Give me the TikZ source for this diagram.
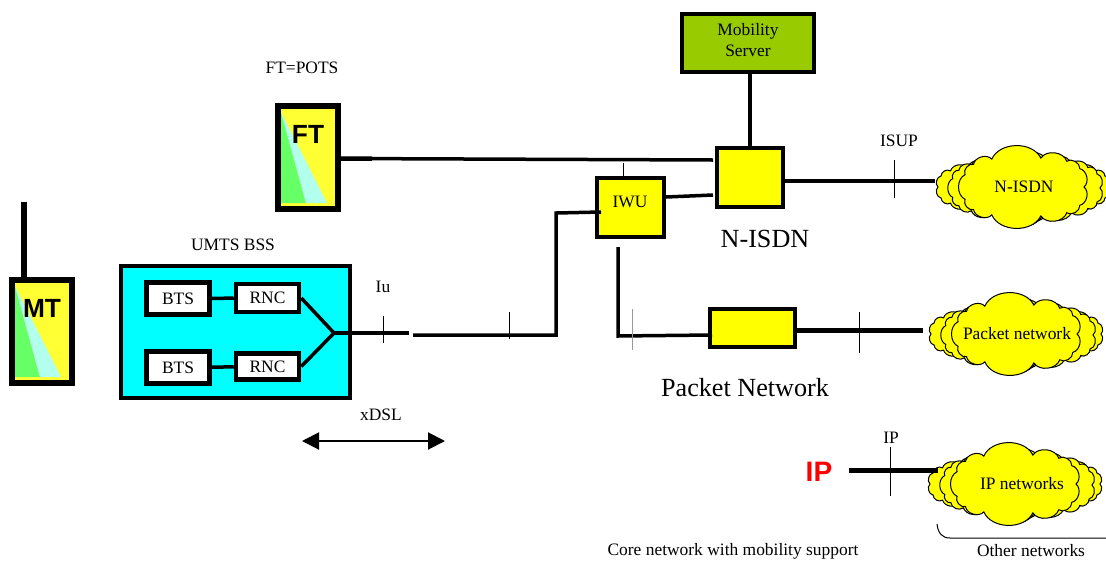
\documentclass[tikz,border=0pt]{standalone}
\usepackage{fontspec}
\setmainfont{Liberation Serif}
\setsansfont{Liberation Sans}
\usetikzlibrary{calc,arrows.meta}
\definecolor{devyellow}{HTML}{FFFF33}
\definecolor{boxyellow}{HTML}{FFFF00}
\definecolor{devgreen}{HTML}{66FF66}
\definecolor{devpale}{HTML}{B3FFEE}
\definecolor{servergreen}{HTML}{99CC00}
\definecolor{bsscyan}{HTML}{00FFFF}
\def\pxl{*0.025cm}
\tikzset{
	netbox/.style={draw=black,line width=4\pxl,rectangle,inner sep=0pt,fill=#1},
	netbox/.default=boxyellow,
	smallbox/.style={draw=black,line width=4.5\pxl,rectangle,inner sep=0pt,fill=white,font=\fontsize{12.4}{14}\selectfont},
	lbl/.style={inner sep=0pt,font=\fontsize{12.4}{15.6}\selectfont},
	biglbl/.style={inner sep=0pt,font=\fontsize{18.6}{20}\selectfont},
	link/.style={line width=3.5\pxl},
	heavylink/.style={line width=5\pxl},
	tickline/.style={line width=1\pxl},
	puffring/.style={draw=black,line width=1\pxl,fill=boxyellow}
}
\def\device(#1)(#2,#3)#4{
	\node[draw=black,line width=6\pxl,rectangle,fill=devyellow,inner sep=0pt,minimum width=60\pxl,minimum height=103\pxl,anchor=north west] (#1) at (#2,#3) {};
	\fill[devgreen] (#2+6,#3+9) -- (#2+31,#3+100) -- (#2+6,#3+100) -- cycle;
	\fill[devpale] (#2+6,#3+9) -- (#2+52,#3+100) -- (#2+31,#3+100) -- cycle;
	\node[inner sep=0pt,font=\sffamily\bfseries\fontsize{18.7}{20}\selectfont] (#1text) at (#2+33,#3+31) {#4};
}
% one ring of puffs: centre, half axes, number of puffs
\def\puffs(#1,#2)(#3,#4)(#5){
	\path[puffring] ({#1+#3},#2) \foreach \k in {1,...,#5}{
		to[bend left=65] ({#1+#3*sign(cos(\k*360/#5))*abs(cos(\k*360/#5))^0.6},{#2+#4*sign(sin(\k*360/#5))*abs(sin(\k*360/#5))^0.6})
	} -- cycle;
}
\def\netcloud(#1)(#2,#3)#4{
	\puffs(#2-1,#3)(85,21)(18)
	\puffs(#2+2,#3+1)(74,26)(17)
	\puffs(#2,#3)(60,29)(13)
	\coordinate (#1) at (#2,#3);
	\node[lbl] (#1text) at (#2,#3) {#4};
}

\begin{document}
\begin{tikzpicture}[x=0.025cm,y=-0.025cm]
	\useasboundingbox (0,0) rectangle (1106,561);

	%%%%% handsets %%%%%
	\coordinate (mtant) at (24,202);
	\draw[line width=6\pxl] (mtant) -- (24,277);
	\device(mt)(9,277){MT}
	\device(ft)(275,103){FT}
	\node[lbl] (ftpots) at (302,68) {FT=POTS};

	%%%%% access network %%%%%
	\node[lbl] (bsslabel) at (233,245) {UMTS BSS};
	\node[draw=black,line width=4\pxl,rectangle,fill=bsscyan,inner sep=0pt,minimum width=229\pxl,minimum height=132\pxl] (bss) at (235.5,332) {};
	\node[smallbox,minimum width=63\pxl,minimum height=32\pxl] (btsa) at (178,298.5) {BTS};
	\node[smallbox,minimum width=63\pxl,minimum height=28\pxl] (rnca) at (267.5,298) {RNC};
	\node[smallbox,minimum width=63\pxl,minimum height=32\pxl] (btsb) at (178,367.5) {BTS};
	\node[smallbox,minimum width=63\pxl,minimum height=26\pxl] (rncb) at (267.5,366.5) {RNC};
	\coordinate (bssjoin) at (334,333);
	\coordinate (bssend) at (409,333);
	\draw[link] (btsa) -- (rnca);
	\draw[link] (btsb) -- (rncb);
	\draw[link] (rnca.east) -- (bssjoin);
	\draw[link] (rncb.east) -- (bssjoin);
	\draw[link] (bssjoin) -- (bssend);
	\draw[tickline] (383,316) -- (383,343);
	\node[lbl] (iulabel) at (383,287) {Iu};

	\node[lbl] (xdsllabel) at (381,415) {xDSL};
	\coordinate (xdslw) at (302,441);
	\coordinate (xdsle) at (445,441);
	\draw[line width=2\pxl,{Triangle[length=17\pxl,width=17\pxl]}-{Triangle[length=17\pxl,width=17\pxl]}] (xdslw) -- (xdsle);

	%%%%% core network %%%%%
	\node[netbox=servergreen,minimum width=132\pxl,minimum height=58\pxl] (mobility) at (748,43) {};
	\node[lbl,align=center] (mobilitytext) at (748,40) {Mobility\\Server};
	\node[netbox,minimum width=66\pxl,minimum height=59\pxl] (nisdn) at (750,177.5) {};
	\node[netbox,lbl,minimum width=67\pxl,minimum height=59\pxl] (iwu) at (630.5,207.5) {};
	\node[lbl] (iwutext) at (630,202) {IWU};
	\node[netbox,minimum width=85\pxl,minimum height=38\pxl] (packet) at (752.5,328) {};
	\node[biglbl] (nisdnlabel) at (765,239) {N-ISDN};
	\node[biglbl] (packetlabel) at (745,388) {Packet Network};
	\node[inner sep=0pt,text=red,font=\sffamily\bfseries\fontsize{20}{22}\selectfont] (iptext) at (819,472) {IP};

	\netcloud(nisdncloud)(1024,187){N-ISDN}
	\netcloud(packetcloud)(1017,334){Packet network}
	\netcloud(ipcloud)(1016,484){\hspace*{8.5pt}IP networks}

	\draw[link] (mobility.south -| nisdn) -- (nisdn.north);
	\draw[link] (ft.east |- 0,158.5) -- (713,160);
	\draw[link,line width=4.5\pxl] (ft.east |- 0,158.5) -- (372,158.7);
	\draw[link] (iwu.east |- 0,197) -- (713,195);
	\draw[tickline] (623,163) -- (iwu.north -| 623,0);
	\coordinate (iwuturn) at (556,213);
	\coordinate (accessstart) at (413,335);
	\coordinate (accessturn) at (556,335);
	\draw[link] (accessstart) -- (accessturn) -- (iwuturn) -- (601,212);
	\draw[tickline] (509,312) -- (509,339);
	\coordinate (iwutail) at (618,247);
	\coordinate (iwubend) at (618,336);
	\draw[link] (iwutail) -- (iwubend) -- (712,335);
	\draw[tickline,color=black!40] (632,309) -- (632,350);

	\coordinate (nisdnout) at (935,181);
	\coordinate (packetout) at (923,330);
	\coordinate (ipin) at (849,470);
	\coordinate (ipout) at (938,470);
	\draw[link,line width=4\pxl] (nisdn.east |- nisdnout) -- (nisdnout);
	\draw[tickline] (894,160) -- (894,198);
	\node[lbl] (isuplabel) at (899,141) {ISUP};
	\draw[heavylink] (packet.east |- packetout) -- (packetout);
	\draw[tickline] (859,312) -- (859,353);
	\draw[heavylink] (ipin) -- (ipout);
	\draw[tickline] (890,447) -- (890,496);
	\node[lbl] (iplabel) at (891,438) {IP};

	%%%%% bottom captions %%%%%
	\node[lbl] (corelabel) at (733,551) {Core network with mobility support};
	\node[lbl] (otherlabel) at (1031,551) {Other networks};
	\draw[line width=1\pxl] (937,524) .. controls (938,533) and (942,538) .. (950,538) -- (1106,538);
\end{tikzpicture}
\end{document}
